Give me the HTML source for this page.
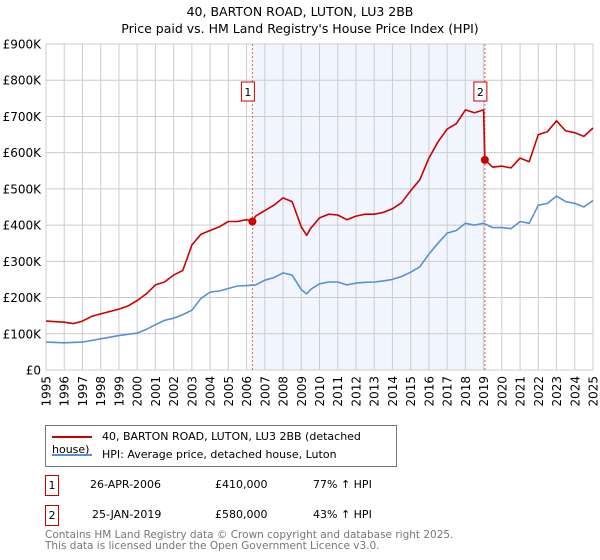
<!DOCTYPE html>
<html><head><meta charset="utf-8"><style>
body{margin:0;background:#fff;font-family:"DejaVu Sans","Liberation Sans",sans-serif;}
#wrap{position:relative;width:600px;height:560px;overflow:hidden}
.t{position:absolute;font-size:12.5px;color:#000}
</style></head><body><div id="wrap">
<div class="t" style="left:0;width:600px;text-align:center;top:3px;line-height:17px">40, BARTON ROAD, LUTON, LU3 2BB<br>Price paid vs. HM Land Registry's House Price Index (HPI)</div>
<svg id="chart" width="600" height="420" style="position:absolute;left:0;top:0;font-family:'DejaVu Sans',sans-serif"></svg>
<div style="position:absolute;left:45px;top:425px;width:350px;height:40px;border:1px solid #777;font-size:11px">
<div style="position:absolute;left:6px;top:4px"><span style="display:inline-block;width:40px;height:2px;background:#cc0000;vertical-align:middle;margin-right:10px"></span>40, BARTON ROAD, LUTON, LU3 2BB (detached house)</div>
<div style="position:absolute;left:6px;top:22px"><span style="display:inline-block;width:40px;height:2px;background:#5b8fd4;vertical-align:middle;margin-right:10px"></span>HPI: Average price, detached house, Luton</div>
</div>
<div style="position:absolute;left:45px;top:475px;font-size:11px;width:560px;height:22px">
<span style="position:absolute;left:0;top:0;width:12px;height:19px;border:1px solid #cc0000;text-align:center;line-height:19px">1</span>
<span style="position:absolute;left:45px;top:3px">26-APR-2006</span><span style="position:absolute;left:170px;top:3px">£410,000</span><span style="position:absolute;left:268px;top:3px">77% ↑ HPI</span></div>
<div style="position:absolute;left:45px;top:505px;font-size:11px;width:560px;height:22px">
<span style="position:absolute;left:0;top:0;width:12px;height:19px;border:1px solid #cc0000;text-align:center;line-height:19px">2</span>
<span style="position:absolute;left:47px;top:3px">25-JAN-2019</span><span style="position:absolute;left:170px;top:3px">£580,000</span><span style="position:absolute;left:268px;top:3px">43% ↑ HPI</span></div>
<div style="position:absolute;left:45px;top:530px;font-size:10.5px;color:#777;line-height:11px">Contains HM Land Registry data © Crown copyright and database right 2025.<br>This data is licensed under the Open Government Licence v3.0.</div>
</div>
<script>
const hpiYears=[1995,1996,1997,1998,1999,2000,2000.5,2001,2001.5,2002,2002.5,2003,2003.5,2004,2004.5,2005,2005.5,2006,2006.5,2007,2007.5,2008,2008.5,2009,2009.3,2009.5,2010,2010.5,2011,2011.5,2012,2012.5,2013,2013.5,2014,2014.5,2015,2015.5,2016,2016.5,2017,2017.5,2018,2018.5,2019,2019.5,2020,2020.5,2021,2021.5,2022,2022.5,2023,2023.5,2024,2024.5,2025];
const hpiValues=[77,75,77,86,95,102,112,125,137,143,153,165,198,215,218,225,232,233,235,248,255,268,262,222,210,222,238,243,243,235,240,242,243,246,250,258,270,285,320,350,378,385,405,400,405,393,393,390,410,405,455,460,480,465,460,450,468];
const priceYears=[1995,1996,1996.5,1997,1997.5,1998,1999,1999.5,2000,2000.5,2001,2001.5,2002,2002.5,2003,2003.5,2004,2004.5,2005,2005.5,2006,2006.32,2006.5,2007,2007.5,2008,2008.5,2009,2009.3,2009.5,2010,2010.5,2011,2011.5,2012,2012.5,2013,2013.5,2014,2014.5,2015,2015.5,2016,2016.5,2017,2017.5,2018,2018.5,2019.0,2019.07,2019.5,2020,2020.5,2021,2021.5,2022,2022.5,2023,2023.5,2024,2024.5,2025];
const priceValues=[135,132,128,135,148,155,168,177,192,210,235,243,262,275,345,375,385,395,410,410,415,410,425,440,455,475,465,395,372,390,420,430,428,415,425,430,430,435,445,462,495,525,585,630,665,680,718,710,718,580,560,563,558,585,575,650,658,688,660,655,645,668];
const saleYears=[2006.32,2019.07];
const saleValues=[410,580];
const saleLabels=["1","2"];
const yTicks=[0,100,200,300,400,500,600,700,800,900];
const yTickLabels=["£0","£100K","£200K","£300K","£400K","£500K","£600K","£700K","£800K","£900K"];
const xTicks=[1995,1996,1997,1998,1999,2000,2001,2002,2003,2004,2005,2006,2007,2008,2009,2010,2011,2012,2013,2014,2015,2016,2017,2018,2019,2020,2021,2022,2023,2024,2025];
const X0=46,X1=593,Y0=370,Y1=44;
const xs=y=>X0+(y-1995)/30*(X1-X0);
const ys=v=>Y0-v/900*(Y0-Y1);
const svg=document.getElementById('chart');
const NS='http://www.w3.org/2000/svg';
function mk(t,a){const e=document.createElementNS(NS,t);for(const k in a)e.setAttribute(k,a[k]);svg.appendChild(e);return e;}
let e=mk('rect',{x:xs(saleYears[0]),y:Y1,width:xs(saleYears[1])-xs(saleYears[0]),height:Y0-Y1,fill:'#eef3fc',opacity:0.8});


yTicks.forEach((v,i)=>{
 const l=mk('line',{x1:X0,x2:X1,y1:ys(v),y2:ys(v),stroke:'#cccccc','stroke-width':1});
 
 
 const t=mk('text',{x:X0-5,y:ys(v)+4.5,'text-anchor':'end','font-size':12,fill:'#000'});
 
 
 t.textContent=yTickLabels[i];
});
xTicks.forEach(y=>{
 const l=mk('line',{x1:xs(y),x2:xs(y),y1:Y1,y2:Y0,stroke:'#cccccc','stroke-width':1});
 
 
 const t=mk('text',{x:0,y:0,'text-anchor':'end','font-size':12,fill:'#000',transform:`translate(${xs(y)+4.5},${Y0+6}) rotate(-90)`});
 
 
 t.textContent=y;
});
saleYears.forEach((y,i)=>{
 const l=mk('line',{x1:xs(y),x2:xs(y),y1:Y1,y2:Y0,stroke:'#e06060','stroke-width':1,'stroke-dasharray':'2,2'});
 
 
});
function path(xa,va,c,name){
 const d=xa.map((y,i)=>(i?'L':'M')+xs(y).toFixed(1)+','+ys(va[i]).toFixed(1)).join('');
 const p=mk('path',{d:d,fill:'none',stroke:c,'stroke-width':1.6,'stroke-linejoin':'round'});
 
 
}
path(hpiYears,hpiValues,'#5b8fd4','hpi-line');
path(priceYears,priceValues,'#cc0000','price-paid-line');
saleYears.forEach((y,i)=>{
 const c=mk('circle',{cx:xs(y),cy:ys(saleValues[i]),r:4,fill:'#cc0000'});
 
 
 const r=mk('rect',{x:xs(y)-11,y:82,width:13,height:19,fill:'#fff',stroke:'#cc0000','stroke-width':1});
 
 
 const t=mk('text',{x:xs(y)-4.5,y:96,'text-anchor':'middle','font-size':11,fill:'#000'});
 
 
 t.textContent=saleLabels[i];
});
</script>
</body></html>
